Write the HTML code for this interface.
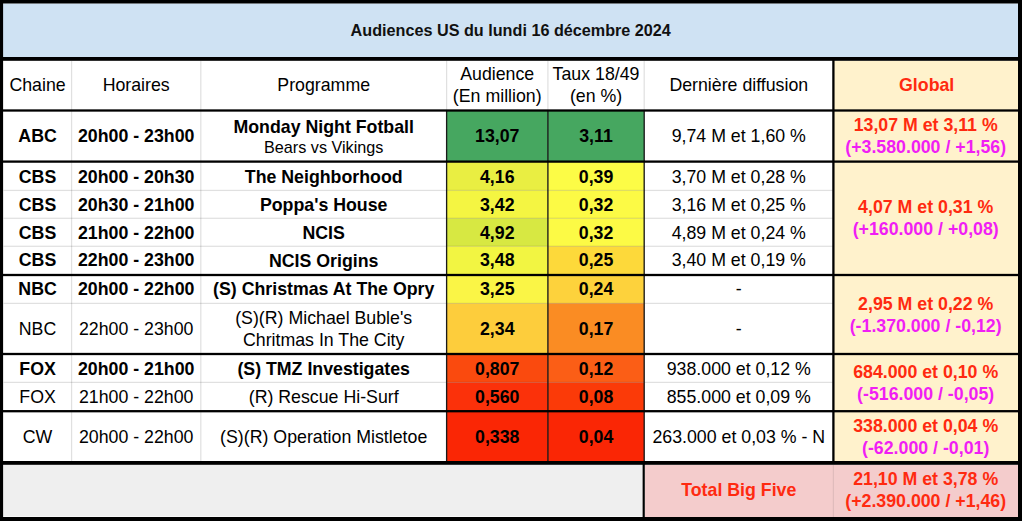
<!DOCTYPE html>
<html><head><meta charset="utf-8"><style>
html,body{margin:0;padding:0;background:#fff;}
#w{position:relative;width:1022px;height:522px;overflow:hidden;font-family:"Liberation Sans",sans-serif;font-size:17.75px;color:#000;}
svg{position:absolute;left:0;top:0;}
.l{position:absolute;text-align:center;white-space:nowrap;line-height:20px;height:20px;}
.c{position:absolute;display:flex;align-items:center;justify-content:center;text-align:center;white-space:nowrap;line-height:1.15;}
</style></head><body><div id="w">
<svg width="1022" height="522" viewBox="0 0 1022 522">
<rect x="0.00" y="0.00" width="1022.00" height="522.00" fill="#fff"/>
<rect x="3.00" y="3.50" width="1015.00" height="53.50" fill="#cfe2f3"/>
<rect x="833.40" y="60.80" width="184.60" height="400.20" fill="#fff2cc"/>
<rect x="446.60" y="110.50" width="101.30" height="51.10" fill="#46a760"/>
<rect x="547.90" y="110.50" width="96.30" height="51.10" fill="#46a760"/>
<rect x="446.60" y="161.60" width="101.30" height="28.80" fill="#e9ee42"/>
<rect x="547.90" y="161.60" width="96.30" height="28.80" fill="#fcfc46"/>
<rect x="446.60" y="190.40" width="101.30" height="27.90" fill="#f4f542"/>
<rect x="547.90" y="190.40" width="96.30" height="27.90" fill="#fcfa45"/>
<rect x="446.60" y="218.30" width="101.30" height="28.00" fill="#d7e842"/>
<rect x="547.90" y="218.30" width="96.30" height="28.00" fill="#fcfa45"/>
<rect x="446.60" y="246.30" width="101.30" height="28.70" fill="#f2f542"/>
<rect x="547.90" y="246.30" width="96.30" height="28.70" fill="#fdd93a"/>
<rect x="446.60" y="275.00" width="101.30" height="28.40" fill="#faf546"/>
<rect x="547.90" y="275.00" width="96.30" height="28.40" fill="#fdd23c"/>
<rect x="446.60" y="303.40" width="101.30" height="50.60" fill="#fdcd3c"/>
<rect x="547.90" y="303.40" width="96.30" height="50.60" fill="#fa8c23"/>
<rect x="446.60" y="354.00" width="101.30" height="28.40" fill="#fa4a0e"/>
<rect x="547.90" y="354.00" width="96.30" height="28.40" fill="#fb5e16"/>
<rect x="446.60" y="382.40" width="101.30" height="28.80" fill="#fb310a"/>
<rect x="547.90" y="382.40" width="96.30" height="28.80" fill="#fb3a08"/>
<rect x="446.60" y="411.20" width="101.30" height="51.80" fill="#fa2605"/>
<rect x="547.90" y="411.20" width="96.30" height="51.80" fill="#fa2605"/>
<rect x="3.00" y="465.00" width="639.50" height="51.50" fill="#efefef"/>
<rect x="645.00" y="465.00" width="373.00" height="52.00" fill="#f4cccc"/>
<rect x="70.97" y="60.80" width="1.25" height="400.20" fill="rgba(0,0,0,0.12)"/>
<rect x="200.18" y="60.80" width="1.25" height="400.20" fill="rgba(0,0,0,0.12)"/>
<rect x="445.98" y="60.80" width="1.25" height="400.20" fill="rgba(0,0,0,0.12)"/>
<rect x="547.27" y="60.80" width="1.25" height="400.20" fill="rgba(0,0,0,0.12)"/>
<rect x="643.58" y="60.80" width="1.25" height="400.20" fill="rgba(0,0,0,0.12)"/>
<rect x="3.50" y="189.78" width="829.90" height="1.25" fill="rgba(0,0,0,0.12)"/>
<rect x="3.50" y="217.68" width="829.90" height="1.25" fill="rgba(0,0,0,0.12)"/>
<rect x="3.50" y="245.68" width="829.90" height="1.25" fill="rgba(0,0,0,0.12)"/>
<rect x="3.50" y="302.77" width="829.90" height="1.25" fill="rgba(0,0,0,0.12)"/>
<rect x="3.50" y="381.77" width="829.90" height="1.25" fill="rgba(0,0,0,0.12)"/>
<rect x="832.80" y="465.00" width="1.20" height="52.00" fill="rgba(0,0,0,0.08)"/>
<rect x="445.95" y="110.50" width="1.30" height="350.50" fill="#1a1a1a"/>
<rect x="547.25" y="110.50" width="1.30" height="350.50" fill="#1a1a1a"/>
<rect x="643.55" y="110.50" width="1.30" height="350.50" fill="#1a1a1a"/>
<rect x="0.00" y="109.35" width="1022.00" height="2.30" fill="#000"/>
<rect x="0.00" y="160.45" width="1022.00" height="2.30" fill="#000"/>
<rect x="0.00" y="273.85" width="1022.00" height="2.30" fill="#000"/>
<rect x="0.00" y="352.85" width="1022.00" height="2.30" fill="#000"/>
<rect x="0.00" y="410.05" width="1022.00" height="2.30" fill="#000"/>
<rect x="832.25" y="57.00" width="2.30" height="406.00" fill="#000"/>
<rect x="642.60" y="463.00" width="2.20" height="54.00" fill="#000"/>
<rect x="0.00" y="0.00" width="1022.00" height="3.50" fill="#000"/>
<rect x="0.00" y="57.00" width="1022.00" height="3.80" fill="#000"/>
<rect x="0.00" y="461.00" width="1022.00" height="3.80" fill="#000"/>
<rect x="0.00" y="517.00" width="1022.00" height="4.00" fill="#000"/>
<rect x="0.00" y="0.00" width="3.10" height="521.00" fill="#000"/>
<rect x="1018.00" y="0.00" width="4.00" height="521.00" fill="#000"/>
</svg>
<div class="c" style="left:3.50px;top:3.50px;width:1014.50px;height:53.50px;"><div><span style="font-size:16.20px;font-weight:bold;color:#111">Audiences US du lundi 16 décembre 2024</span></div></div>
<div class="c" style="left:3.50px;top:60.80px;width:68.10px;height:49.70px;"><div>Chaine</div></div>
<div class="c" style="left:71.60px;top:60.80px;width:129.20px;height:49.70px;"><div>Horaires</div></div>
<div class="c" style="left:200.80px;top:60.80px;width:245.80px;height:49.70px;"><div>Programme</div></div>
<div class="c" style="left:446.60px;top:60.80px;width:101.30px;height:49.70px;line-height:21.3px"><div>Audience<br>(En million)</div></div>
<div class="c" style="left:547.90px;top:60.80px;width:96.30px;height:49.70px;line-height:21.3px"><div>Taux 18/49<br>(en %)</div></div>
<div class="c" style="left:644.20px;top:60.80px;width:189.20px;height:49.70px;"><div>Dernière diffusion</div></div>
<div class="c" style="left:834.40px;top:60.80px;width:184.60px;height:49.70px;"><div><b style="color:#ff2a10">Global</b></div></div>
<div class="c" style="left:3.50px;top:110.50px;width:68.10px;height:51.10px;"><div><b>ABC</b></div></div>
<div class="c" style="left:71.60px;top:110.50px;width:129.20px;height:51.10px;"><div><b>20h00 - 23h00</b></div></div>
<div class="l" style="left:200.80px;top:117px;width:245.80px;font-size:17.75px"><b>Monday Night Fotball</b></div>
<div class="l" style="left:200.80px;top:137px;width:245.80px;font-size:16.2px">Bears vs Vikings</div>
<div class="c" style="left:446.60px;top:110.50px;width:101.30px;height:51.10px;"><div><b>13,07</b></div></div>
<div class="c" style="left:547.90px;top:110.50px;width:96.30px;height:51.10px;"><div><b>3,11</b></div></div>
<div class="c" style="left:644.20px;top:110.50px;width:189.20px;height:51.10px;"><div>9,74 M et 1,60 %</div></div>
<div class="c" style="left:3.50px;top:162.60px;width:68.10px;height:28.80px;"><div><b>CBS</b></div></div>
<div class="c" style="left:71.60px;top:162.60px;width:129.20px;height:28.80px;"><div><b>20h00 - 20h30</b></div></div>
<div class="c" style="left:200.80px;top:162.60px;width:245.80px;height:28.80px;line-height:22px"><div><b>The Neighborhood</b></div></div>
<div class="c" style="left:446.60px;top:162.60px;width:101.30px;height:28.80px;"><div><b>4,16</b></div></div>
<div class="c" style="left:547.90px;top:162.60px;width:96.30px;height:28.80px;"><div><b>0,39</b></div></div>
<div class="c" style="left:644.20px;top:162.60px;width:189.20px;height:28.80px;"><div>3,70 M et 0,28 %</div></div>
<div class="c" style="left:3.50px;top:191.40px;width:68.10px;height:27.90px;"><div><b>CBS</b></div></div>
<div class="c" style="left:71.60px;top:191.40px;width:129.20px;height:27.90px;"><div><b>20h30 - 21h00</b></div></div>
<div class="c" style="left:200.80px;top:191.40px;width:245.80px;height:27.90px;line-height:22px"><div><b>Poppa's House</b></div></div>
<div class="c" style="left:446.60px;top:191.40px;width:101.30px;height:27.90px;"><div><b>3,42</b></div></div>
<div class="c" style="left:547.90px;top:191.40px;width:96.30px;height:27.90px;"><div><b>0,32</b></div></div>
<div class="c" style="left:644.20px;top:191.40px;width:189.20px;height:27.90px;"><div>3,16 M et 0,25 %</div></div>
<div class="c" style="left:3.50px;top:219.30px;width:68.10px;height:28.00px;"><div><b>CBS</b></div></div>
<div class="c" style="left:71.60px;top:219.30px;width:129.20px;height:28.00px;"><div><b>21h00 - 22h00</b></div></div>
<div class="c" style="left:200.80px;top:219.30px;width:245.80px;height:28.00px;line-height:22px"><div><b>NCIS</b></div></div>
<div class="c" style="left:446.60px;top:219.30px;width:101.30px;height:28.00px;"><div><b>4,92</b></div></div>
<div class="c" style="left:547.90px;top:219.30px;width:96.30px;height:28.00px;"><div><b>0,32</b></div></div>
<div class="c" style="left:644.20px;top:219.30px;width:189.20px;height:28.00px;"><div>4,89 M et 0,24 %</div></div>
<div class="c" style="left:3.50px;top:246.30px;width:68.10px;height:28.70px;"><div><b>CBS</b></div></div>
<div class="c" style="left:71.60px;top:246.30px;width:129.20px;height:28.70px;"><div><b>22h00 - 23h00</b></div></div>
<div class="c" style="left:200.80px;top:246.30px;width:245.80px;height:28.70px;line-height:22px"><div><b>NCIS Origins</b></div></div>
<div class="c" style="left:446.60px;top:246.30px;width:101.30px;height:28.70px;"><div><b>3,48</b></div></div>
<div class="c" style="left:547.90px;top:246.30px;width:96.30px;height:28.70px;"><div><b>0,25</b></div></div>
<div class="c" style="left:644.20px;top:246.30px;width:189.20px;height:28.70px;"><div>3,40 M et 0,19 %</div></div>
<div class="c" style="left:3.50px;top:275.00px;width:68.10px;height:28.40px;"><div><b>NBC</b></div></div>
<div class="c" style="left:71.60px;top:275.00px;width:129.20px;height:28.40px;"><div><b>20h00 - 22h00</b></div></div>
<div class="c" style="left:200.80px;top:275.00px;width:245.80px;height:28.40px;line-height:22px"><div><b>(S) Christmas At The Opry</b></div></div>
<div class="c" style="left:446.60px;top:275.00px;width:101.30px;height:28.40px;"><div><b>3,25</b></div></div>
<div class="c" style="left:547.90px;top:275.00px;width:96.30px;height:28.40px;"><div><b>0,24</b></div></div>
<div class="c" style="left:644.20px;top:275.00px;width:189.20px;height:28.40px;"><div>-</div></div>
<div class="c" style="left:3.50px;top:304.00px;width:68.10px;height:50.60px;"><div>NBC</div></div>
<div class="c" style="left:71.60px;top:304.00px;width:129.20px;height:50.60px;"><div>22h00 - 23h00</div></div>
<div class="c" style="left:200.80px;top:304.00px;width:245.80px;height:50.60px;line-height:22px"><div>(S)(R) Michael Buble's<br>Chritmas In The City</div></div>
<div class="c" style="left:446.60px;top:304.00px;width:101.30px;height:50.60px;"><div><b>2,34</b></div></div>
<div class="c" style="left:547.90px;top:304.00px;width:96.30px;height:50.60px;"><div><b>0,17</b></div></div>
<div class="c" style="left:644.20px;top:304.00px;width:189.20px;height:50.60px;"><div>-</div></div>
<div class="c" style="left:3.50px;top:355.00px;width:68.10px;height:28.40px;"><div><b>FOX</b></div></div>
<div class="c" style="left:71.60px;top:355.00px;width:129.20px;height:28.40px;"><div><b>20h00 - 21h00</b></div></div>
<div class="c" style="left:200.80px;top:355.00px;width:245.80px;height:28.40px;line-height:22px"><div><b>(S) TMZ Investigates</b></div></div>
<div class="c" style="left:446.60px;top:355.00px;width:101.30px;height:28.40px;"><div><b>0,807</b></div></div>
<div class="c" style="left:547.90px;top:355.00px;width:96.30px;height:28.40px;"><div><b>0,12</b></div></div>
<div class="c" style="left:644.20px;top:355.00px;width:189.20px;height:28.40px;"><div>938.000 et 0,12 %</div></div>
<div class="c" style="left:3.50px;top:382.40px;width:68.10px;height:28.80px;"><div>FOX</div></div>
<div class="c" style="left:71.60px;top:382.40px;width:129.20px;height:28.80px;"><div>21h00 - 22h00</div></div>
<div class="c" style="left:200.80px;top:382.40px;width:245.80px;height:28.80px;line-height:22px"><div>(R) Rescue Hi-Surf</div></div>
<div class="c" style="left:446.60px;top:382.40px;width:101.30px;height:28.80px;"><div><b>0,560</b></div></div>
<div class="c" style="left:547.90px;top:382.40px;width:96.30px;height:28.80px;"><div><b>0,08</b></div></div>
<div class="c" style="left:644.20px;top:382.40px;width:189.20px;height:28.80px;"><div>855.000 et 0,09 %</div></div>
<div class="c" style="left:3.50px;top:411.20px;width:68.10px;height:51.80px;"><div>CW</div></div>
<div class="c" style="left:71.60px;top:411.20px;width:129.20px;height:51.80px;"><div>20h00 - 22h00</div></div>
<div class="c" style="left:200.80px;top:411.20px;width:245.80px;height:51.80px;line-height:22px"><div>(S)(R) Operation Mistletoe</div></div>
<div class="c" style="left:446.60px;top:411.20px;width:101.30px;height:51.80px;"><div><b>0,338</b></div></div>
<div class="c" style="left:547.90px;top:411.20px;width:96.30px;height:51.80px;"><div><b>0,04</b></div></div>
<div class="c" style="left:644.20px;top:411.20px;width:189.20px;height:51.80px;"><div>263.000 et 0,03 % - N</div></div>
<div class="c" style="left:833.40px;top:110.50px;width:184.60px;height:51.10px;line-height:21.8px;padding-top:2px;box-sizing:border-box"><div><b style="color:#ff2a10">13,07 M et 3,11 %</b><br><b style="color:#f01ef4">(+3.580.000 / +1,56)</b></div></div>
<div class="c" style="left:833.40px;top:161.60px;width:184.60px;height:113.40px;line-height:21.8px;padding-top:2px;box-sizing:border-box"><div><b style="color:#ff2a10">4,07 M et 0,31 %</b><br><b style="color:#f01ef4">(+160.000 / +0,08)</b></div></div>
<div class="c" style="left:833.40px;top:275.00px;width:184.60px;height:79.00px;line-height:21.8px;padding-top:2px;box-sizing:border-box"><div><b style="color:#ff2a10">2,95 M et 0,22 %</b><br><b style="color:#f01ef4">(-1.370.000 / -0,12)</b></div></div>
<div class="c" style="left:833.40px;top:354.00px;width:184.60px;height:57.20px;line-height:21.8px;padding-top:2px;box-sizing:border-box"><div><b style="color:#ff2a10">684.000 et 0,10 %</b><br><b style="color:#f01ef4">(-516.000 / -0,05)</b></div></div>
<div class="c" style="left:833.40px;top:411.20px;width:184.60px;height:51.80px;line-height:21.8px;padding-top:2px;box-sizing:border-box"><div><b style="color:#ff2a10">338.000 et 0,04 %</b><br><b style="color:#f01ef4">(-62.000 / -0,01)</b></div></div>
<div class="c" style="left:644.20px;top:463.60px;width:189.20px;height:54.00px;"><div><b style="color:#ff2a10">Total Big Five</b></div></div>
<div class="c" style="left:833.40px;top:463.00px;width:184.60px;height:54.00px;line-height:21.8px;padding-top:2px;box-sizing:border-box"><div><b style="color:#ff2a10">21,10 M et 3,78 %</b><br><b style="color:#ff2a10">(+2.390.000 / +1,46)</b></div></div>
</div></body></html>
